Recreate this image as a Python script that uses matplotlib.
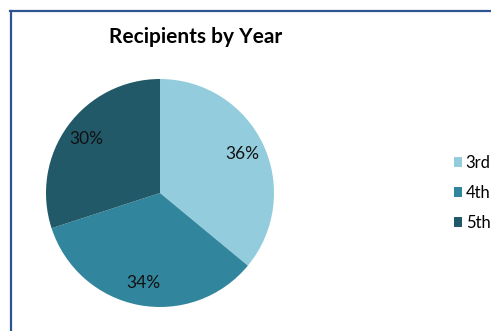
import matplotlib
matplotlib.use("Agg")
import matplotlib.pyplot as plt
from matplotlib.lines import Line2D

plt.rcParams['font.family'] = ['Lato', 'DejaVu Sans']

# recipients share per year
years = ['3rd', '4th', '5th']
shares = [36, 34, 30]
colours = ['#93CDDD', '#31859C', '#215968']

fig = plt.figure(figsize=(4.91, 3.31), dpi=100)
W, H = 491.0, 331.0

# chart frame (only top and left edges show)
fig.add_artist(Line2D([10 / W, 1], [1 - 10.5 / H, 1 - 10.5 / H], color='#2E5491', lw=1.6))
fig.add_artist(Line2D([10.5 / W, 10.5 / W], [0, 1 - 10.5 / H], color='#2E5491', lw=1.6))

# pie axes centred at (160, 193) px with radius ~114 px
cx, cy, r = 160, 193, 114
ax = fig.add_axes([(cx - r) / W, 1 - (cy + r) / H, 2 * r / W, 2 * r / H])
wedges, texts, autotexts = ax.pie(shares, colors=colours, startangle=90, counterclock=False,
                                  autopct='%d%%', pctdistance=0.8, radius=1.0,
                                  wedgeprops=dict(linewidth=0),
                                  textprops=dict(fontsize=12.5, color='#111111'))
ax.set_xlim(-1, 1)
ax.set_ylim(-1, 1)
ax.set_aspect('auto')

fig.text(196 / W, 1 - 37 / H, 'Recipients by Year', ha='center', va='center',
         fontsize=15, fontweight='bold')

fig.legend(wedges, years, loc='center left', bbox_to_anchor=(454 / W, 1 - 193 / H),
           frameon=False, fontsize=12, handlelength=0.5, handleheight=0.5,
           handletextpad=0.2, labelspacing=0.85, borderpad=0, borderaxespad=0)

fig.savefig('out.png', dpi=100)
